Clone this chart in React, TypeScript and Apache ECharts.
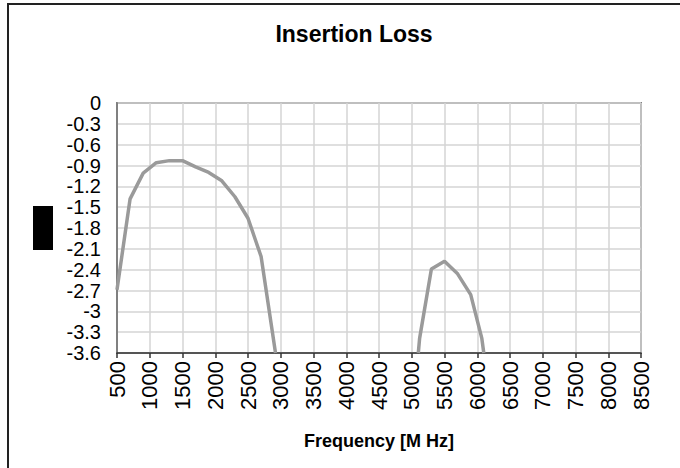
import React, { useEffect, useRef } from "react";
import * as echarts from "echarts";

const titleText = "Insertion Loss";
const xAxisName = "Frequency [M Hz]";
const band1Freq = [500, 700, 900, 1100, 1300, 1500, 1700, 1900, 2100, 2300, 2500, 2700, 2920];
const band1Loss = [-2.69, -1.38, -1.01, -0.86, -0.83, -0.83, -0.92, -1.0, -1.12, -1.35, -1.66, -2.21, -3.6];
const band2Freq = [5100, 5120, 5300, 5500, 5700, 5900, 6070, 6100];
const band2Loss = [-3.6, -3.39, -2.39, -2.28, -2.46, -2.76, -3.39, -3.6];

export default function App() {
  const ref = useRef<HTMLDivElement>(null);
  useEffect(() => {
    if (!ref.current) return;
    const chart = echarts.init(ref.current, null, { renderer: "svg" });
    const lineStyle = { color: "#9a9a9a", width: 3.5 };
    chart.setOption({
      animation: false,
      backgroundColor: "#ffffff",
      title: {
        text: titleText,
        left: 349,
        textAlign: "center",
        top: 17,
        textStyle: { fontFamily: "Liberation Sans", fontWeight: "bold", fontSize: 23, color: "#000" },
      },
      graphic: [
        { type: "rect", shape: { x: 8, y: 4, width: 700, height: 500 }, style: { fill: "none", stroke: "#222", lineWidth: 2 }, silent: true },
        { type: "rect", shape: { x: 33, y: 206, width: 20, height: 44 }, style: { fill: "#000" }, silent: true },
      ],
      grid: { left: 117, right: 39, top: 103, bottom: 115, show: true, borderColor: "#808080", borderWidth: 2 },
      xAxis: {
        type: "value",
        min: 500,
        max: 8500,
        interval: 500,
        name: xAxisName,
        nameLocation: "middle",
        nameGap: 79,
        nameTextStyle: { fontFamily: "Liberation Sans", fontWeight: "bold", fontSize: 18, color: "#000" },
        axisLine: { show: true, onZero: false, lineStyle: { color: "#333", width: 1.5 } },
        axisTick: { show: true, length: 5, lineStyle: { color: "#333", width: 1.5 } },
        axisLabel: {
          rotate: 90,
          margin: 8,
          fontFamily: "Liberation Sans",
          fontSize: 22,
          color: "#000",
          formatter: (v: number) => String(Math.round(v)),
        },
        splitLine: { show: true, lineStyle: { color: "#d4d4d4", width: 1.5 } },
      },
      yAxis: {
        type: "value",
        min: -3.6,
        max: 0,
        interval: 0.3,
        axisLine: { show: true, lineStyle: { color: "#808080", width: 2 } },
        axisTick: { show: false },
        axisLabel: {
          margin: 16,
          fontFamily: "Liberation Sans",
          fontSize: 20,
          lineHeight: 20,
          color: "#000",
          showMinLabel: true,
          showMaxLabel: true,
          formatter: (v: number) => String(parseFloat(v.toFixed(1))),
        },
        splitLine: { show: true, lineStyle: { color: "#d4d4d4", width: 1.5 } },
      },
      series: [
        { type: "line", data: band1Freq.map((f, i) => [f, band1Loss[i]]), showSymbol: false, symbol: "none", lineStyle, clip: true },
        { type: "line", data: band2Freq.map((f, i) => [f, band2Loss[i]]), showSymbol: false, symbol: "none", lineStyle, clip: true },
      ],
    });
    return () => chart.dispose();
  }, []);
  return <div ref={ref} style={{ position: "absolute", left: 0, top: 0, width: 680, height: 468 }} />;
}
